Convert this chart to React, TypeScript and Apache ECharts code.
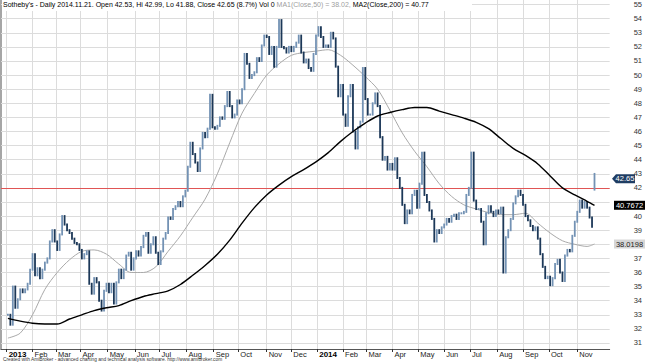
import React, { useEffect, useRef } from 'react';
import * as echarts from 'echarts';

// Daily closes sampled every second trading day (trading-day index = 2k+1), Jan 2013 .. 2014-11-21
const closes: number[] = [
  33.0, 32.3, 35.0, 33.5, 34.1, 34.8, 34.6, 34.8, 35.2, 36.2,
  37.3, 35.8, 36.3, 35.6, 36.2, 36.7, 37.0, 38.2, 39.0, 38.2,
  37.6, 38.7, 40.0, 39.4, 39.0, 38.8, 38.4, 38.1, 38.0, 37.6,
  37.0, 37.3, 37.5, 35.2, 34.5, 35.6, 35.3, 34.0, 33.3, 34.7,
  35.2, 34.6, 35.2, 33.8, 35.3, 36.2, 35.6, 36.2, 37.2, 37.4,
  36.2, 37.0, 37.5, 37.2, 37.8, 38.6, 38.8, 37.4, 38.0, 38.5,
  37.4, 36.6, 37.5, 38.4, 38.8, 39.9, 39.8, 40.5, 40.7, 41.0,
  40.7, 41.4, 41.8, 43.5, 45.2, 44.4, 43.8, 43.2, 44.8, 45.9,
  45.6, 46.2, 48.6, 46.3, 46.2, 46.4, 47.0, 46.9, 47.8, 48.8,
  47.8, 47.0, 47.2, 48.2, 48.0, 49.0, 51.5, 50.8, 49.8, 50.0,
  50.2, 51.2, 51.0, 52.1, 52.8, 52.7, 51.5, 52.0, 50.6, 52.0,
  53.9, 52.0, 51.9, 51.6, 52.0, 51.7, 52.0, 52.3, 52.8, 51.6,
  50.9, 51.1, 50.5, 50.3, 51.5, 52.8, 53.4, 52.7, 52.0, 52.1,
  52.0, 53.0, 52.6, 50.6, 48.5, 49.3, 47.2, 46.4, 48.5, 49.3,
  46.0, 44.8, 46.3, 46.7, 50.5, 48.3, 47.2, 47.2, 48.0, 48.7,
  47.8, 45.6, 44.0, 44.2, 43.3, 43.7, 43.3, 44.1, 42.7, 42.0,
  40.8, 39.5, 40.4, 40.2, 41.5, 41.8, 40.6, 42.3, 44.5, 41.5,
  41.0, 40.4, 39.8, 38.2, 39.0, 38.8, 39.2, 39.4, 39.8, 39.6,
  40.0, 40.1, 39.8, 40.2, 40.2, 40.3, 41.5, 42.0, 44.5, 41.1,
  40.5, 40.5, 39.6, 38.0, 40.2, 40.7, 40.3, 40.0, 40.4, 40.2,
  40.6, 36.0, 38.5, 39.0, 39.8, 40.9, 41.4, 41.8, 41.5, 40.8,
  40.0, 39.7, 39.3, 39.0, 39.2, 38.4, 37.3, 36.4, 35.6, 35.7,
  35.1, 35.6, 36.6, 36.9, 36.0, 35.4, 37.2, 37.6, 37.5, 38.6,
  39.6, 40.3, 41.1, 40.6, 41.0, 40.6, 39.9, 39.24, 42.65,
];

// Moving averages sampled every 10 trading days, last point at the final bar
const ma50: number[] = [
  31.35, 31.7, 33.0, 34.8, 36.0, 36.9, 37.5, 37.6, 37.3, 36.6,
  36.0, 36.0, 36.4, 37.5, 38.6, 39.9, 41.2, 43.0, 45.2, 47.3,
  48.7, 50.0, 50.8, 51.4, 51.6, 51.7, 51.8, 51.4, 50.7, 49.9,
  49.0, 47.5, 45.9, 44.6, 43.5, 42.3, 41.4, 40.8, 40.5, 40.25,
  40.1, 40.1, 40.2, 39.5, 38.8, 38.25, 38.0, 37.85, 38.0198,
];
const ma200: number[] = [
  32.75, 32.55, 32.4, 32.35, 32.35, 32.7, 33.0, 33.3, 33.5, 33.65,
  34.0, 34.3, 34.5, 34.7, 35.15, 35.8, 36.5, 37.3, 38.3, 39.5,
  40.6, 41.5, 42.2, 42.8, 43.3, 43.85, 44.5, 45.3, 46.0, 46.6,
  47.1, 47.35, 47.55, 47.7, 47.7, 47.45, 47.2, 46.95, 46.65, 46.2,
  45.5, 44.8, 44.3, 43.7, 42.85, 42.0, 41.5, 41.05, 40.7672,
];

const lastBar = { open: 42.53, high: 42.99, low: 41.88, close: 42.65, change: 8.7 };
const lastIndex = 477;

const monthStarts = [0, 21, 40, 60, 82, 104, 124, 146, 168, 188, 211, 231, 252, 273, 292, 313, 334, 355, 376, 398, 419, 440, 463];
const monthLabels = ['2013', 'Feb', 'Mar', 'Apr', 'May', 'Jun', 'Jul', 'Aug', 'Sep', 'Oct', 'Nov', 'Dec', '2014', 'Feb', 'Mar', 'Apr', 'May', 'Jun', 'Jul', 'Aug', 'Sep', 'Oct', 'Nov'];
const yTicks = [31, 32, 33, 34, 35, 36, 37, 38, 39, 40, 41, 42, 43, 44, 45, 46, 47, 48, 49, 50, 51, 52, 53, 54, 55];
const refLevel = 42;

const FONT = 'Arial, "Liberation Sans", sans-serif';
const UP = '#7392b4';
const DOWN = '#1c3858';

export default function App() {
  const ref = useRef<HTMLDivElement>(null);
  useEffect(() => {
    document.body.style.margin = '0';
    const chart = echarts.init(ref.current!, null, { renderer: 'svg' });

    const barData = closes.map((c, k) => {
      const idx = 2 * k + 1;
      if (idx === lastIndex) {
        return [idx, lastBar.open, lastBar.close, lastBar.low, lastBar.high];
      }
      const o = k === 0 ? c : closes[k - 1];
      return [idx, o, c, Math.min(o, c), Math.max(o, c)];
    });
    const maIdx = ma50.map((_, i) => (i === ma50.length - 1 ? lastIndex : 10 * i + 1));
    const ma50Last = ma50[ma50.length - 1];
    const ma200Last = ma200[ma200.length - 1];
    // labels that the value tags cover are not drawn
    const labelTicks = yTicks.filter((v) => Math.abs(v - ma50Last) > 0.3 && Math.abs(v - ma200Last) > 0.3);

    const yMin = 30.574;
    const yMax = 55.326;

    chart.setOption({
      animation: false,
      backgroundColor: '#ffffff',
      grid: { left: 1, right: 34, top: 0, bottom: 15 },
      xAxis: {
        type: 'value',
        min: -4.6,
        max: 489.3,
        axisLine: { show: true, onZero: false, lineStyle: { color: '#555', width: 1 } },
        axisTick: { show: true, customValues: monthStarts, length: 3, lineStyle: { color: '#333' } },
        splitLine: { show: false },
        axisLabel: {
          customValues: monthStarts,
          margin: 1,
          align: 'left',
          padding: [0, 0, 0, 2],
          fontFamily: FONT,
          formatter: (v: number) => {
            const i = monthStarts.indexOf(Math.round(v));
            const t = monthLabels[i] ?? '';
            return /^\d{4}$/.test(t) ? `{y|${t}}` : `{m|${t}}`;
          },
          rich: {
            y: { fontSize: 8, fontWeight: 'bold', color: '#000', fontFamily: FONT },
            m: { fontSize: 7.5, color: '#222', fontFamily: FONT },
          },
        },
      },
      yAxis: [
        {
          type: 'value',
          position: 'right',
          min: yMin,
          max: yMax,
          axisLine: { show: true, lineStyle: { color: '#555', width: 1 } },
          axisTick: { show: true, customValues: yTicks, length: 2, lineStyle: { color: '#444' } },
          splitLine: { show: false },
          axisLabel: {
            customValues: labelTicks,
            margin: 24,
            fontSize: 7.5,
            color: '#333',
            fontFamily: FONT,
          },
        },
        {
          type: 'value',
          position: 'left',
          min: yMin,
          max: yMax,
          axisLine: { show: true, lineStyle: { color: '#888', width: 1.5 } },
          axisTick: { show: false },
          axisLabel: { show: false },
          splitLine: { show: false },
        },
      ],
      series: [
        {
          type: 'line',
          name: 'MA50',
          data: maIdx.map((x, i) => [x, ma50[i]]),
          smooth: 0.3,
          showSymbol: false,
          z: 3,
          lineStyle: { color: '#a9a9a9', width: 1 },
          markLine: {
            silent: true,
            z: 1,
            symbol: 'none',
            label: { show: false },
            lineStyle: { color: '#dcdcdc', width: 1, type: 'solid' },
            data: [
              ...monthStarts.map((v) => ({ xAxis: v })),
              ...yTicks.map((v) => ({ yAxis: v })),
            ],
          },
        },
        {
          type: 'custom',
          name: 'Price',
          z: 4,
          data: barData,
          encode: { x: 0, y: [1, 2, 3, 4] },
          renderItem: (params: any, api: any) => {
            const i = api.value(0);
            const o = api.value(1);
            const c = api.value(2);
            const lo = api.value(3);
            const hi = api.value(4);
            const pHi = api.coord([i, hi]);
            const pLo = api.coord([i, lo]);
            const color = c >= o ? UP : DOWN;
            return {
              type: 'line',
              shape: { x1: pHi[0], y1: pHi[1] - 1, x2: pLo[0], y2: pLo[1] + 1 },
              style: { stroke: color, lineWidth: 1.8 },
            };
          },
          markLine: {
            silent: true,
            z: 2,
            symbol: 'none',
            label: { show: false },
            lineStyle: { color: '#e05555', width: 1, type: 'solid' },
            data: [{ yAxis: refLevel }],
          },
        },
        {
          type: 'line',
          name: 'MA200',
          data: maIdx.map((x, i) => [x, ma200[i]]),
          smooth: 0.3,
          showSymbol: false,
          z: 5,
          lineStyle: { color: '#000', width: 1.4 },
        },
      ],
    });

    const yPx = (v: number) => chart.convertToPixel({ yAxisIndex: 0 }, v) as number;
    const axisX = 611;
    const yc = yPx(lastBar.close);
    const y200 = yPx(ma200Last);
    const y50 = yPx(ma50Last);
    const fmt = (v: number) => String(v);

    chart.setOption({
      graphic: [
        { type: 'rect', z: 100, shape: { x: 2, y: 0, width: 470, height: 11 }, style: { fill: '#fff' } },
        {
          type: 'text', z: 101, x: 3, y: 1,
          style: {
            text:
              `{a|Sotheby's - Daily 2014.11.21. Open ${lastBar.open}, Hi ${lastBar.high}, Lo ${lastBar.low}, Close ${lastBar.close} (${lastBar.change}%) Vol 0 }` +
              `{g|MA1(Close,50) = ${ma50Last.toFixed(2)}, }` +
              `{a|MA2(Close,200) = ${ma200Last.toFixed(2)}}`,
            rich: {
              a: { fill: '#000', fontSize: 7, fontFamily: FONT },
              g: { fill: '#a0a0a0', fontSize: 7, fontFamily: FONT },
            },
            fontSize: 7,
            fontFamily: FONT,
          },
        },
        {
          type: 'polygon', z: 100,
          shape: { points: [[axisX + 1, yc], [axisX + 5, yc - 4.5], [axisX + 24, yc - 4.5], [axisX + 24, yc + 4.5], [axisX + 5, yc + 4.5]] },
          style: { fill: '#1f3d63' },
        },
        { type: 'text', z: 101, x: axisX + 14, y: yc, style: { text: fmt(lastBar.close), fill: '#fff', fontSize: 7.5, fontFamily: FONT, align: 'center', verticalAlign: 'middle' } },
        { type: 'rect', z: 100, shape: { x: axisX + 3, y: y200 - 4.5, width: 31, height: 9 }, style: { fill: '#000' } },
        { type: 'text', z: 101, x: axisX + 18.5, y: y200, style: { text: fmt(ma200Last), fill: '#fff', fontSize: 7.5, fontFamily: FONT, align: 'center', verticalAlign: 'middle' } },
        { type: 'rect', z: 100, shape: { x: axisX + 3, y: y50 - 4.5, width: 31, height: 9 }, style: { fill: '#d6d6d6' } },
        { type: 'text', z: 101, x: axisX + 18.5, y: y50, style: { text: fmt(ma50Last), fill: '#222', fontSize: 7.5, fontFamily: FONT, align: 'center', verticalAlign: 'middle' } },
        {
          type: 'text', z: 101, x: 3, y: 357,
          style: {
            text: 'Created with AmiBroker - advanced charting and technical analysis software. http://www.amibroker.com',
            fill: '#333', fontSize: 4.8, fontFamily: FONT,
          },
        },
      ],
    });

    return () => chart.dispose();
  }, []);
  return <div ref={ref} style={{ width: 645, height: 364 }} />;
}
